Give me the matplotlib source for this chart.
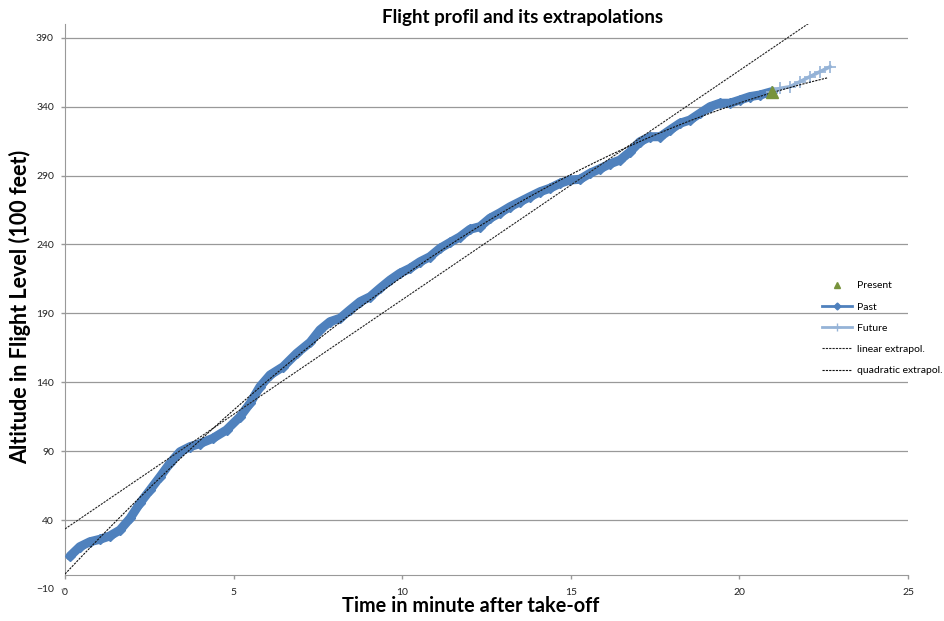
import numpy as np
import matplotlib
matplotlib.use("Agg")
import matplotlib.pyplot as plt
from matplotlib.lines import Line2D

# Recorded climb profile (minutes after take-off, flight level)
past_t = [0.15, 0.44, 0.74, 1.04, 1.33, 1.63, 1.93, 2.22, 2.52, 2.82, 3.11, 3.41,
          3.71, 4.0, 4.39, 4.79, 5.19, 5.49, 5.78, 6.08, 6.47, 6.87, 7.27, 7.56,
          7.86, 8.16, 8.45, 8.75, 9.05, 9.34, 9.64, 9.93, 10.23, 10.53, 10.82,
          11.12, 11.42, 11.71, 12.01, 12.31, 12.6, 12.9, 13.2, 13.49, 13.79,
          14.09, 14.38, 14.68, 14.98, 15.27, 15.57, 15.87, 16.16, 16.46, 16.76,
          17.05, 17.35, 17.65, 17.94, 18.24, 18.53, 18.83, 19.13, 19.42, 19.72,
          20.02, 20.31, 20.61, 20.96]
past_alt = [13.9, 20.7, 24.3, 26.1, 28.5, 32.8, 41.3, 52.2, 61.8, 71.5, 81.2, 89.6,
            93.3, 95.5, 99.4, 105.4, 115.0, 124.8, 136.8, 145.3, 151.3, 161.0, 169.0,
            178.0, 184.0, 186.5, 192.5, 198.5, 202.1, 208.2, 214.2, 219.1, 222.7,
            227.5, 231.1, 237.2, 241.5, 245.5, 251.0, 253.0, 259.0, 263.0, 267.4,
            271.0, 274.7, 278.3, 280.8, 284.4, 286.8, 287.3, 291.7, 295.0, 298.5,
            301.3, 307.3, 314.6, 318.2, 318.2, 323.1, 328.0, 330.3, 335.2, 340.0,
            342.5, 342.5, 344.9, 347.3, 348.5, 350.9]

future_t = [20.96, 21.2, 21.5, 21.8, 22.09, 22.39, 22.69]
future_alt = [350.9, 353.3, 354.5, 358.2, 361.8, 365.4, 369.0]

present_t = [20.96]
present_alt = [350.9]

# Trend span for the extrapolations
trend_start, trend_end = 0.0, 22.6

x_ticks = [0, 5, 10, 15, 20, 25]
y_ticks = [-10, 40, 90, 140, 190, 240, 290, 340, 390]

FONT = "Lato"
plt.rcParams["font.family"] = [FONT, "DejaVu Sans"]

fig = plt.figure(figsize=(9.44, 6.21), dpi=100)
ax = fig.add_axes([65 / 944, 1 - 589 / 621, (908 - 65) / 944, (589 - 24) / 621])

grid_c = "#999999"
for yv in y_ticks[1:]:
    ax.axhline(yv, color=grid_c, lw=0.9, zorder=0)

# Fitted extrapolations of the recorded profile
t_fit = np.linspace(trend_start, trend_end, 300)
lin = np.polyfit(past_t, past_alt, 1)
quad = np.polyfit(past_t, past_alt, 2)

ax.plot(past_t, past_alt, color="#4F81BD", lw=6.5, marker="D", ms=5,
        solid_capstyle="round", zorder=3)
ax.plot(future_t, future_alt, color="#95B3D7", lw=2.5, marker="+", ms=8,
        mew=1.2, zorder=3)
ax.plot(t_fit, np.polyval(lin, t_fit), color="#222222", lw=0.8,
        ls=(0, (2, 1)), zorder=4)
ax.plot(t_fit, np.polyval(quad, t_fit), color="#111111", lw=0.8,
        ls=(0, (2, 1)), zorder=4)
ax.plot(present_t, present_alt, ls="none", marker="^", ms=8,
        color="#77933C", zorder=5)

ax.set_xlim(0, 25)
ax.set_ylim(-10, 400)
ax.set_xticks(x_ticks)
ax.set_yticks(y_ticks)

for s in ("top", "right"):
    ax.spines[s].set_visible(False)
ax.spines["bottom"].set_position(("data", 0))
ax.spines["bottom"].set_color(grid_c)
ax.spines["left"].set_color(grid_c)
ax.spines["left"].set_bounds(0, 400)
ax.tick_params(axis="both", colors=grid_c, labelcolor="#222222",
               labelsize=7.5, length=3, width=1, pad=5)
ax.tick_params(axis="x", pad=6)

fig.text(523 / 944, 1 - 18 / 621, "Flight profil and its extrapolations",
         ha="center", va="center", fontsize=13.5, fontweight="bold")
fig.text(471 / 944, 1 - 606 / 621, "Time in minute after take-off",
         ha="center", va="center", fontsize=14.3, fontweight="bold")
fig.text(20 / 944, 1 - 307 / 621, "Altitude in Flight Level (100 feet)",
         ha="center", va="center", rotation=90, fontsize=15.5, fontweight="bold")

handles = [
    Line2D([], [], ls="none", marker="^", ms=5, color="#77933C"),
    Line2D([], [], color="#4F81BD", lw=2, marker="D", ms=3.5),
    Line2D([], [], color="#95B3D7", lw=2, marker="+", ms=6),
    Line2D([], [], color="#222222", lw=0.8, ls=(0, (2, 1))),
    Line2D([], [], color="#111111", lw=0.8, ls=(0, (2, 1))),
]
labels = ["Present", "Past", "Future", "linear extrapol.", "quadratic extrapol."]
fig.legend(handles, labels, loc="upper left",
           bbox_to_anchor=(822 / 944, 1 - 281 / 621), frameon=False,
           fontsize=7.5, handlelength=2.9, handletextpad=0.45,
           labelspacing=1.15, borderpad=0, borderaxespad=0)

fig.savefig("out.png", dpi=100)
